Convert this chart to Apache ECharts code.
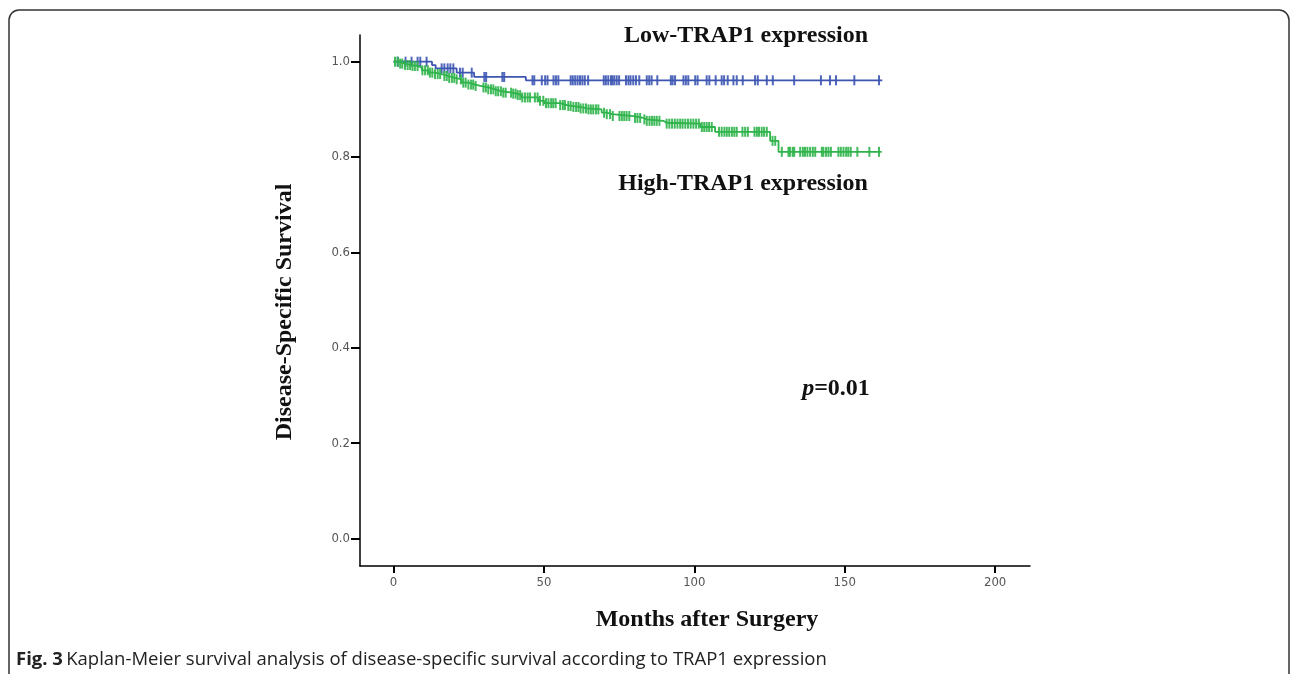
<!DOCTYPE html>
<html>
<head>
<meta charset="utf-8">
<script src="https://cdn.jsdelivr.net/npm/echarts@6/dist/echarts.min.js"></script>
<style>
html,body{margin:0;padding:0;background:#fff;}
#chart{width:1292px;height:674px;}
</style>
</head>
<body>
<div id="chart"></div>
<script>
// ---- data ----
const xTicks = [0, 50, 100, 150, 200];
const yTicks = [0, 0.2, 0.4, 0.6, 0.8, 1.0];

// Low-TRAP1: [event month, survival after the step]; last point = end of follow-up
const lowEvents = [[0,1.0],[12.8,0.993],[14.0,0.986],[21.0,0.977],[26.8,0.968],[44.0,0.961],[162.5,0.961]];
const lowCensor = [1.4,4.0,6.0,8.0,8.9,11.0,16.0,16.9,18.0,18.9,19.9,22.1,23.0,26.0,30.2,30.8,36.2,36.8,
  46.2,46.8,49.3,50.4,51.2,53.2,54.0,54.8,58.9,59.6,60.4,61.2,62.0,62.8,63.6,64.7,69.9,70.6,71.4,72.3,72.8,
  73.4,74.2,75.0,77.3,78.1,78.8,79.7,80.6,81.7,84.2,85.0,85.8,87.7,92.2,92.8,93.6,96.4,97.2,98.0,100.3,101.1,
  104.1,105.0,107.1,109.1,109.9,111.1,113.0,114.1,116.1,120.2,121.1,124.1,126.1,133.2,142.1,145.1,147.1,153.2,161.4];

// High-TRAP1
const highEvents = [[0,1.0],[1.6,0.996],[3.8,0.993],[6.0,0.991],[8.3,0.987],[9.4,0.982],[11.6,0.977],[13.8,0.974],
  [16.0,0.970],[18.2,0.966],[20.4,0.963],[22.7,0.956],[24.9,0.952],[27.1,0.949],[29.3,0.946],[31.5,0.942],
  [33.7,0.938],[36.0,0.935],[39.3,0.933],[41.0,0.930],[42.6,0.925],[48.1,0.918],[50.1,0.913],[55.4,0.909],
  [57.6,0.907],[59.8,0.905],[62.0,0.902],[64.2,0.900],[69.2,0.893],[70.9,0.890],[72.6,0.886],[79.7,0.882],
  [83.1,0.879],[84.2,0.876],[89.7,0.872],[90.8,0.870],[102.0,0.863],[106.9,0.853],[125.2,0.834],[128.0,0.811],[162.3,0.811]];
const highCensor = [0.5,1.4,2.2,2.9,3.8,4.7,5.5,6.3,7.1,8.0,9.6,10.5,11.4,12.1,12.9,13.8,14.7,15.5,16.9,17.7,18.5,
  19.4,20.2,21.0,22.4,23.2,24.0,24.9,25.8,26.5,27.3,29.9,30.7,31.5,32.4,33.2,34.0,34.8,35.7,36.5,37.3,39.1,39.8,
  40.6,41.3,42.1,42.8,43.7,44.6,45.4,47.0,47.9,48.7,49.8,50.7,51.5,52.4,53.1,53.9,55.4,56.3,57.0,58.1,58.9,59.8,
  60.7,61.5,62.2,63.1,64.0,64.8,65.6,66.4,67.3,68.1,70.0,70.9,72.0,72.9,75.1,75.9,76.7,77.5,78.4,80.3,81.1,82.0,
  83.4,84.2,85.1,85.9,86.7,87.5,88.4,90.8,91.7,92.6,93.5,94.4,95.3,96.1,97.0,97.9,98.8,99.7,100.6,101.5,102.5,
  103.3,104.1,104.9,105.8,108.2,109.1,110.0,110.8,111.6,112.5,113.3,114.1,116.0,116.9,117.8,120.0,120.8,121.5,
  122.4,123.2,124.1,126.0,126.9,129.1,131.3,131.8,132.7,133.2,135.2,136.1,136.8,137.6,138.5,139.4,140.2,142.4,
  142.9,143.8,144.6,145.4,147.9,148.7,149.6,150.5,151.2,152.0,154.2,158.2,161.4];

const lowLabel = 'Low-TRAP1 expression';
const highLabel = 'High-TRAP1 expression';
const pLabel = '0.01';
const yTitle = 'Disease-Specific Survival';
const xTitle = 'Months after Surgery';
const caption = 'Kaplan-Meier survival analysis of disease-specific survival according to TRAP1 expression';

// ---- helpers ----
function survAt(events, t) {
  let v = events[0][1];
  for (const e of events) { if (e[0] <= t) v = e[1]; else break; }
  return v;
}
const BLUE = '#3d56b2';
const GREEN = '#2fb44b';
const tickFont = '"Liberation Sans Narrow","DejaVu Sans Condensed","Liberation Sans",sans-serif';
const serif = '"Liberation Serif","Times New Roman",serif';

const chart = echarts.init(document.getElementById('chart'), null, {renderer: 'canvas'});
chart.setOption({
  animation: false,
  backgroundColor: '#fff',
  grid: {left: 360, top: 35, width: 670, height: 531, containLabel: false},
  xAxis: {
    type: 'value', min: -11.14, max: 211.6,
    axisLine: {onZero: false, lineStyle: {color: '#000', width: 1.5}},
    axisTick: {show: true, length: 7, lineStyle: {color: '#000', width: 2}, customValues: xTicks},
    axisLabel: {customValues: xTicks, color: '#555', fontSize: 13, fontFamily: tickFont, margin: 10,
      formatter: v => String(v)},
    splitLine: {show: false}
  },
  yAxis: {
    type: 'value', min: -0.0577, max: 1.056,
    axisLine: {onZero: false, lineStyle: {color: '#000', width: 1.5}},
    axisTick: {show: true, length: 9, lineStyle: {color: '#000', width: 2}, customValues: yTicks},
    axisLabel: {customValues: yTicks, color: '#555', fontSize: 13, fontFamily: tickFont, margin: 10,
      formatter: v => v.toFixed(1)},
    splitLine: {show: false}
  },
  series: [
    {type: 'line', step: 'end', data: lowEvents, showSymbol: false, symbol: 'none',
     lineStyle: {color: BLUE, width: 1.8}, z: 2},
    {type: 'scatter', data: lowCensor.map(t => [t, survAt(lowEvents, t)]),
     symbol: 'rect', symbolSize: [2, 10], itemStyle: {color: BLUE, opacity: 0.9}, z: 3},
    {type: 'line', step: 'end', data: highEvents, showSymbol: false, symbol: 'none',
     lineStyle: {color: GREEN, width: 1.8}, z: 4},
    {type: 'scatter', data: highCensor.map(t => [t, survAt(highEvents, t)]),
     symbol: 'rect', symbolSize: [2, 10], itemStyle: {color: GREEN, opacity: 0.9}, z: 5}
  ],
  graphic: [
    {type: 'rect', shape: {x: 9, y: 10, width: 1280, height: 700, r: 10},
     style: {fill: 'none', stroke: '#333', lineWidth: 1.5}, silent: true, z: 0},
    {type: 'text', x: 285, y: 312, rotation: Math.PI / 2,
     style: {text: yTitle, font: 'bold 24px ' + serif, fill: '#111', textAlign: 'center', textVerticalAlign: 'middle'}},
    {type: 'text', x: 707, y: 620,
     style: {text: xTitle, font: 'bold 24px ' + serif, fill: '#111', textAlign: 'center', textVerticalAlign: 'middle'}},
    {type: 'text', x: 746, y: 36, style: {text: lowLabel, font: 'bold 24px ' + serif, fill: '#111',
      textAlign: 'center', textVerticalAlign: 'middle'}},
    {type: 'text', x: 743, y: 184, style: {text: highLabel, font: 'bold 24px ' + serif, fill: '#111',
      textAlign: 'center', textVerticalAlign: 'middle'}},
    {type: 'text', x: 836, y: 389, style: {
      text: '{i|p}{b|=' + pLabel + '}', textAlign: 'center', textVerticalAlign: 'middle',
      rich: {i: {font: 'bold italic 24px ' + serif, fill: '#111'}, b: {font: 'bold 24px ' + serif, fill: '#111'}}}},
    {type: 'text', x: 16, y: 660, style: {
      text: '{b|Fig. 3} {n|' + caption + '}', textVerticalAlign: 'middle',
      rich: {b: {font: 'bold 18.5px "Open Sans",sans-serif', fill: '#222'},
             n: {font: '18.5px "Open Sans",sans-serif', fill: '#222'}}}}
  ]
});
</script>
</body>
</html>
